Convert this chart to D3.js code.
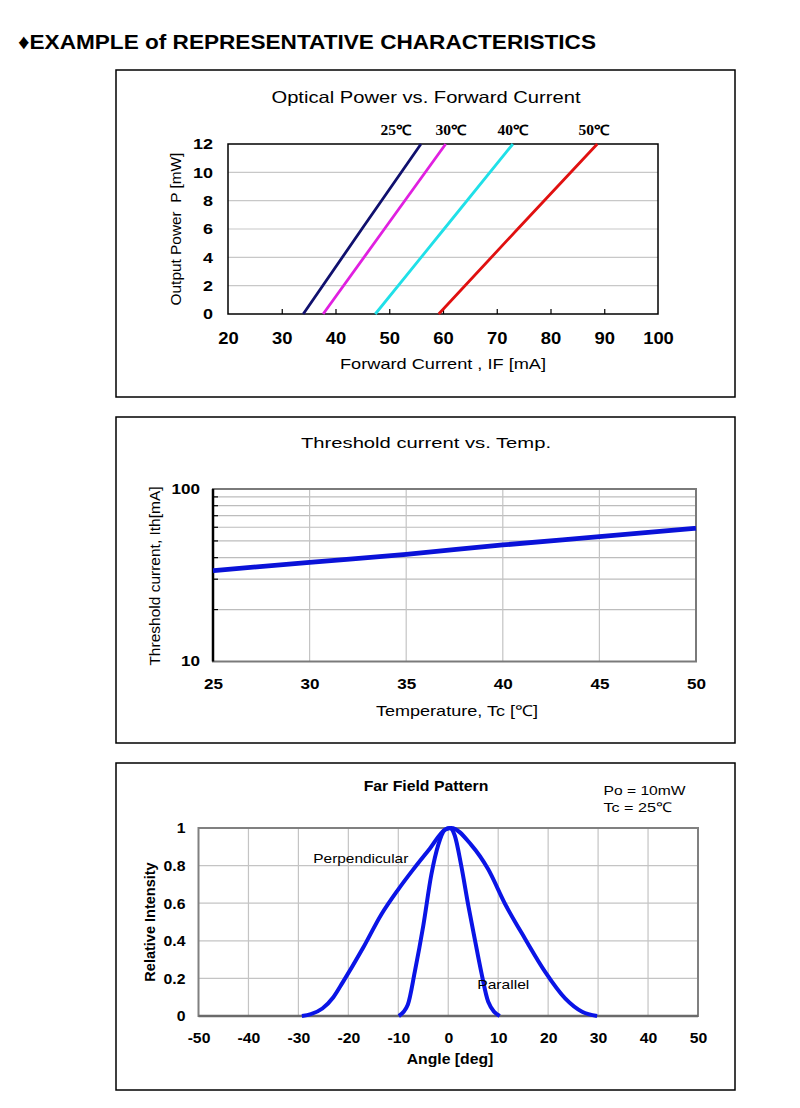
<!DOCTYPE html>
<html>
<head>
<meta charset="utf-8">
<script src="https://cdn.jsdelivr.net/npm/d3@7"></script>
<style>
  html, body { margin: 0; padding: 0; background: #fff; }
  svg { display: block; }
</style>
</head>
<body>
<svg id="chart" width="800" height="1108"></svg>
<script>
// ---------- DATA ----------
// Chart 1: Optical power vs forward current
const ivTempLabels = ["25\u2103", "30\u2103", "40\u2103", "50\u2103"];
const ivPower = [0, 6, 12];                 // mW
const ivCurrent25 = [34.0, 44.9, 55.9];     // mA
const ivCurrent30 = [37.7, 49.1, 60.5];
const ivCurrent40 = [47.4, 60.2, 73.0];
const ivCurrent50 = [59.2, 73.9, 88.7];
const ivXTicks = [20, 30, 40, 50, 60, 70, 80, 90, 100];
const ivYTicks = [0, 2, 4, 6, 8, 10, 12];

// Chart 2: Threshold current vs temperature
const thTemp = [25, 30, 35, 40, 45, 50];
const thCurrent = [33.6, 37.6, 41.8, 47.4, 52.9, 59.2];
const thXTicks = [25, 30, 35, 40, 45, 50];
const thYTicks = [10, 100];
const thMinor = [20, 30, 40, 50, 60, 70, 80, 90];

// Chart 3: Far field pattern
const perpAngle = [-29.3, -27.5, -25.2, -23.0, -21.1, -17.1, -13.4, -10.1, -7.0, -3.7, -0.7, 0.6, 4.6, 8.0, 11.3, 15.4, 19.4, 23.4, 26.8, 29.8];
const perpInt   = [0, 0.01, 0.04, 0.10, 0.18, 0.36, 0.54, 0.67, 0.78, 0.89, 0.99, 1.0, 0.91, 0.78, 0.60, 0.41, 0.235, 0.094, 0.023, 0];
const parAngle = [-9.9, -8.1, -6.7, -5.0, -3.4, -2.0, -0.7, 0.3, 1.3, 2.6, 4.0, 5.3, 6.6, 8.0, 10.3];
const parInt   = [0, 0.06, 0.235, 0.48, 0.75, 0.91, 0.99, 1.0, 0.96, 0.80, 0.59, 0.41, 0.235, 0.076, 0];
const ffXTicks = [-50, -40, -30, -20, -10, 0, 10, 20, 30, 40, 50];
const ffYTicks = [0, 0.2, 0.4, 0.6, 0.8, 1];

// ---------- DRAW ----------
const SANS = "'Liberation Sans', Arial, sans-serif";
const SERIF = "'Liberation Serif', 'Times New Roman', serif";
const svg = d3.select("#chart");
svg.append("rect").attr("width", 800).attr("height", 1108).attr("fill", "#fff");

// horizontal stretch (the reference is widened horizontally)
function stretch(sel, f) {
  sel.each(function () {
    const w = this.getComputedTextLength();
    d3.select(this).attr("textLength", w * f).attr("lengthAdjust", "spacingAndGlyphs");
  });
}
function label(x, y, txt, size, opts = {}) {
  const t = svg.append("text").attr("x", x).attr("y", y)
    .attr("text-anchor", opts.anchor || "start")
    .style("font-family", opts.family || SANS)
    .style("font-size", size + "px")
    .style("font-weight", opts.weight || "normal")
    .attr("fill", "#000").text(txt);
  if (opts.rotate) t.attr("transform", `rotate(-90,${x},${y})`);
  if (opts.width) t.attr("textLength", opts.width).attr("lengthAdjust", "spacingAndGlyphs");
  if (opts.xml) t.attr("xml:space", "preserve");
  return t;
}

label(18, 48.5, "\u2666EXAMPLE of REPRESENTATIVE CHARACTERISTICS", 21, { weight: "bold", width: 578 });

function frame(x0, y0, x1, y1) {
  svg.append("rect").attr("x", x0).attr("y", y0).attr("width", x1 - x0).attr("height", y1 - y0)
    .attr("fill", "#fff").attr("stroke", "#000").attr("stroke-width", 1.5);
}
function styleAxis(g, size, weight, f) {
  g.select(".domain").remove();
  const t = g.selectAll("text").style("font-size", size + "px").style("font-weight", weight)
    .style("font-family", SANS).attr("fill", "#000");
  stretch(t, f);
}

// ===== Chart 1 =====
frame(116, 70, 735, 397);
{
  const x = d3.scaleLinear([20, 100], [228, 658]);
  const y = d3.scaleLinear([0, 12], [314, 144]);
  const g = svg.append("g");
  g.selectAll(".hg").data(ivYTicks.filter(v => v > 0 && v < 12)).join("line")
    .attr("x1", x(20)).attr("x2", x(100)).attr("y1", d => y(d)).attr("y2", d => y(d))
    .attr("stroke", "#c8c8c8").attr("stroke-width", 1.2);
  g.append("rect").attr("x", x(20)).attr("y", y(12)).attr("width", x(100) - x(20)).attr("height", y(0) - y(12))
    .attr("fill", "none").attr("stroke", "#000").attr("stroke-width", 1.5);
  const xa = g.append("g").attr("transform", `translate(0,${y(0)})`)
    .call(d3.axisBottom(x).tickValues(ivXTicks).tickSizeInner(-5).tickSizeOuter(0).tickPadding(19));
  styleAxis(xa, 16, "bold", 1.15);
  xa.selectAll(".tick line").attr("stroke", "#000").attr("stroke-width", 1.2)
    .filter(d => d === 20 || d === 100).remove();
  const ya = g.append("g").attr("transform", `translate(${x(20)},0)`)
    .call(d3.axisLeft(y).tickValues(ivYTicks).tickSize(0).tickPadding(15));
  styleAxis(ya, 15.5, "bold", 1.16);

  const series = [ivCurrent25, ivCurrent30, ivCurrent40, ivCurrent50];
  const colors = ["#10106e", "#e020e0", "#20e0e8", "#e01010"];
  const line = d3.line().x(d => x(d[0])).y(d => y(d[1]));
  series.forEach((s, i) => {
    g.append("path").datum(s.map((c, k) => [c, ivPower[k]])).attr("d", line)
      .attr("fill", "none").attr("stroke", colors[i]).attr("stroke-width", 2.8);
  });
  const labelX = [396, 451, 513, 594];
  ivTempLabels.forEach((t, i) => {
    label(labelX[i], 135, t, 14, { anchor: "middle", family: SERIF, weight: "bold", width: 31 });
  });
  label(426, 102.5, "Optical Power vs. Forward Current", 16.5, { anchor: "middle", width: 309 });
  label(443, 369, "Forward Current , IF [mA]", 15, { anchor: "middle", width: 206 });
  label(180.5, 229, "Output Power  P [mW]", 15.4, { anchor: "middle", rotate: true, xml: true });
}

// ===== Chart 2 =====
frame(116, 417, 735, 743);
{
  const x = d3.scaleLinear([25, 50], [213, 696]);
  const y = d3.scaleLog([10, 100], [661.5, 489]);
  const g = svg.append("g");
  g.selectAll(".hg").data(thMinor).join("line")
    .attr("x1", x(25)).attr("x2", x(50)).attr("y1", d => y(d)).attr("y2", d => y(d))
    .attr("stroke", "#bdbdbd").attr("stroke-width", 1.2);
  g.selectAll(".vg").data(thXTicks.filter(v => v > 25 && v < 50)).join("line")
    .attr("x1", d => x(d)).attr("x2", d => x(d)).attr("y1", y(100)).attr("y2", y(10))
    .attr("stroke", "#c4c4c4").attr("stroke-width", 1.2);
  g.selectAll(".mt").data(thMinor).join("line")
    .attr("x1", x(25)).attr("x2", x(25) + 5).attr("y1", d => y(d)).attr("y2", d => y(d))
    .attr("stroke", "#000").attr("stroke-width", 1.2);
  g.append("rect").attr("x", x(25)).attr("y", y(100)).attr("width", x(50) - x(25)).attr("height", y(10) - y(100))
    .attr("fill", "none").attr("stroke", "#7a7a7a").attr("stroke-width", 2);
  g.append("line").attr("x1", x(25)).attr("x2", x(25)).attr("y1", y(100)).attr("y2", y(10))
    .attr("stroke", "#000").attr("stroke-width", 2.5);
  const xa = g.append("g").attr("transform", `translate(0,${y(10)})`)
    .call(d3.axisBottom(x).tickValues(thXTicks).tickSize(0).tickPadding(17.5));
  styleAxis(xa, 14, "bold", 1.22);
  const ya = g.append("g").attr("transform", `translate(${x(25)},0)`)
    .call(d3.axisLeft(y).tickValues(thYTicks).tickFormat(d3.format("d")).tickSize(0).tickPadding(13));
  styleAxis(ya, 14, "bold", 1.22);

  const line = d3.line().x(d => x(d[0])).y(d => y(d[1])).curve(d3.curveMonotoneX);
  g.append("path").datum(thTemp.map((t, i) => [t, thCurrent[i]])).attr("d", line)
    .attr("fill", "none").attr("stroke", "#0a12d8").attr("stroke-width", 4.8);

  label(426, 448.3, "Threshold current vs. Temp.", 15.4, { anchor: "middle", width: 250 });
  label(457, 716, "Temperature, Tc [\u2103]", 15, { anchor: "middle", width: 162 });
  label(160, 576, "Threshold current, Ith[mA]", 15.5, { anchor: "middle", rotate: true });
}

// ===== Chart 3 =====
frame(116, 763, 735, 1090);
{
  const x = d3.scaleLinear([-50, 50], [198.5, 698]);
  const y = d3.scaleLinear([0, 1], [1016, 828]);
  const g = svg.append("g");
  g.selectAll(".vg").data(ffXTicks.filter(v => v > -50 && v < 50)).join("line")
    .attr("x1", d => x(d)).attr("x2", d => x(d)).attr("y1", y(1)).attr("y2", y(0))
    .attr("stroke", "#c4c4c4").attr("stroke-width", 1.2);
  g.selectAll(".hg").data(ffYTicks.filter(v => v > 0 && v < 1)).join("line")
    .attr("x1", x(-50)).attr("x2", x(50)).attr("y1", d => y(d)).attr("y2", d => y(d))
    .attr("stroke", "#c4c4c4").attr("stroke-width", 1.2);
  g.append("rect").attr("x", x(-50)).attr("y", y(1)).attr("width", x(50) - x(-50)).attr("height", y(0) - y(1))
    .attr("fill", "none").attr("stroke", "#808080").attr("stroke-width", 2);
  g.append("line").attr("x1", x(-50)).attr("x2", x(50)).attr("y1", y(0)).attr("y2", y(0))
    .attr("stroke", "#6a6a6a").attr("stroke-width", 2.5);
  const xa = g.append("g").attr("transform", `translate(0,${y(0)})`)
    .call(d3.axisBottom(x).tickValues(ffXTicks).tickFormat(d => String(d)).tickSize(0).tickPadding(16.5));
  styleAxis(xa, 15, "bold", 1.05);
  const ya = g.append("g").attr("transform", `translate(${x(-50)},0)`)
    .call(d3.axisLeft(y).tickValues(ffYTicks).tickFormat(d => String(d)).tickSize(0).tickPadding(13));
  styleAxis(ya, 15, "bold", 1.05);

  const line = d3.line().x(d => x(d[0])).y(d => y(d[1])).curve(d3.curveMonotoneX);
  g.append("path").datum(perpAngle.map((a, i) => [a, perpInt[i]])).attr("d", line)
    .attr("fill", "none").attr("stroke", "#0a14e6").attr("stroke-width", 4);
  g.append("path").datum(parAngle.map((a, i) => [a, parInt[i]])).attr("d", line)
    .attr("fill", "none").attr("stroke", "#0a14e6").attr("stroke-width", 4);

  label(426, 790.7, "Far Field Pattern", 14, { anchor: "middle", weight: "bold", width: 124.6 });
  label(603.5, 795, "Po = 10mW", 13.5, { width: 82 });
  label(603.5, 811.7, "Tc = 25\u2103", 13.5, { width: 68 });
  label(313.3, 863.3, "Perpendicular", 13, { width: 95 });
  label(477.3, 989, "Parallel", 13, { width: 52 });
  label(450, 1064, "Angle [deg]", 14.5, { anchor: "middle", weight: "bold", width: 86.7 });
  label(154.5, 922, "Relative Intensity", 14.5, { anchor: "middle", weight: "bold", rotate: true });
}
</script>
</body>
</html>
